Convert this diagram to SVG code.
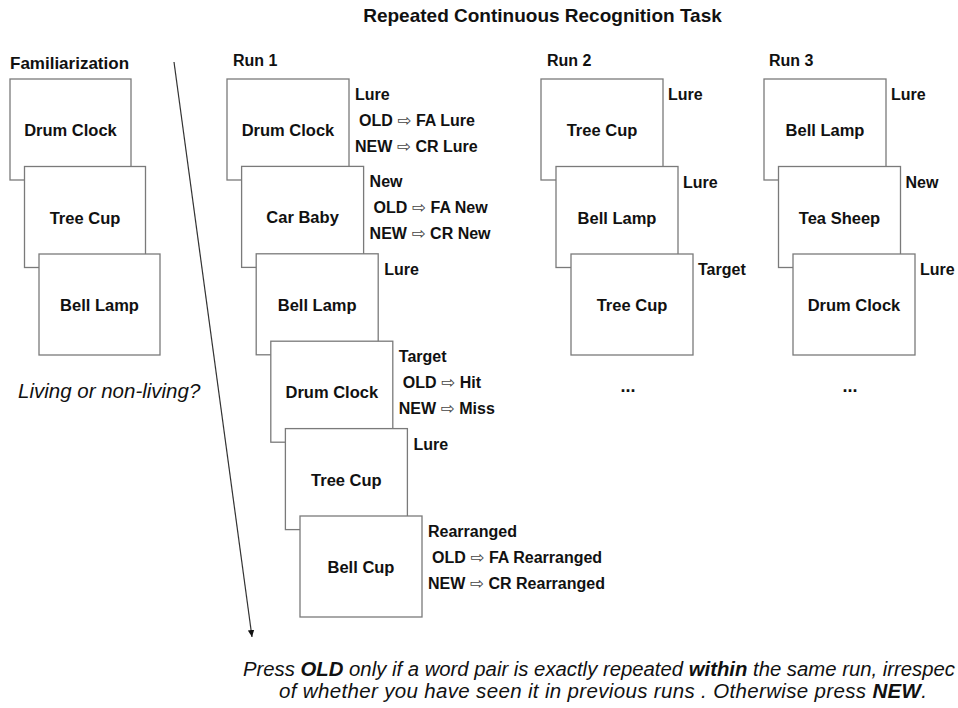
<svg xmlns="http://www.w3.org/2000/svg" width="958" height="708" viewBox="0 0 958 708">
<defs>
<style>
.card{fill:#fff;stroke:#7a7a7a;stroke-width:1.3}
.t{font-family:"Liberation Sans",Arial,sans-serif;font-weight:bold;fill:#111}
.w{font-size:16.5px;text-anchor:middle}
.l{font-size:16px}
.h{font-size:16px}
.ar{font-family:"DejaVu Sans",sans-serif;font-weight:normal;font-size:17px;fill:#444}
.it{font-family:"Liberation Sans",Arial,sans-serif;font-style:italic;font-size:20.5px;fill:#111}
.b{font-weight:bold}
.conn{stroke:#333;stroke-width:1.2;fill:none}
</style>
<marker id="ah" markerWidth="8" markerHeight="8" refX="7" refY="3.5" orient="auto" markerUnits="userSpaceOnUse"><path d="M0,0.3 L7,3.5 L0,6.7 z" fill="#111"/></marker>
</defs>
<rect width="958" height="708" fill="#fff"/>

<text class="t" x="542.5" y="22" font-size="19" text-anchor="middle">Repeated Continuous Recognition Task</text>
<text class="t" x="10" y="69" font-size="17">Familiarization</text>
<text class="t h" x="233" y="66">Run 1</text>
<text class="t h" x="547" y="66">Run 2</text>
<text class="t h" x="769" y="66">Run 3</text>

<g id="connectors">
<line class="conn" x1="174" y1="62" x2="252" y2="637" marker-end="url(#ah)"/>
</g>

<g id="fam1"><rect class="card" x="10" y="79" width="121" height="101"/><text class="t w" x="70.5" y="136">Drum Clock</text></g>
<g id="fam2"><rect class="card" x="24.5" y="166.5" width="121" height="101"/><text class="t w" x="85" y="223.5">Tree Cup</text></g>
<g id="fam3"><rect class="card" x="39" y="254" width="121" height="101"/><text class="t w" x="99.5" y="311">Bell Lamp</text></g>
<text class="it" x="18" y="398">Living or non-living?</text>

<g id="r1a"><rect class="card" x="227" y="79" width="122" height="101"/><text class="t w" x="288" y="136">Drum Clock</text>
<text class="t l" x="355" y="100">Lure</text>
<text class="t l" x="359" y="126">OLD <tspan class="ar">⇨</tspan> FA Lure</text>
<text class="t l" x="355" y="152">NEW <tspan class="ar">⇨</tspan> CR Lure</text></g>
<g id="r1b"><rect class="card" x="241.6" y="166.4" width="122" height="101"/><text class="t w" x="302.6" y="223.4">Car Baby</text>
<text class="t l" x="369.6" y="187.4">New</text>
<text class="t l" x="373.6" y="213.4">OLD <tspan class="ar">⇨</tspan> FA New</text>
<text class="t l" x="369.6" y="239.4">NEW <tspan class="ar">⇨</tspan> CR New</text></g>
<g id="r1c"><rect class="card" x="256.2" y="253.8" width="122" height="101"/><text class="t w" x="317.2" y="310.8">Bell Lamp</text>
<text class="t l" x="384.2" y="274.8">Lure</text></g>
<g id="r1d"><rect class="card" x="270.8" y="341.2" width="122" height="101"/><text class="t w" x="331.8" y="398.2">Drum Clock</text>
<text class="t l" x="398.8" y="362.2">Target</text>
<text class="t l" x="402.8" y="388.2">OLD <tspan class="ar">⇨</tspan> Hit</text>
<text class="t l" x="398.8" y="414.2">NEW <tspan class="ar">⇨</tspan> Miss</text></g>
<g id="r1e"><rect class="card" x="285.4" y="428.6" width="122" height="101"/><text class="t w" x="346.4" y="485.6">Tree Cup</text>
<text class="t l" x="413.4" y="449.6">Lure</text></g>
<g id="r1f"><rect class="card" x="300" y="516" width="122" height="101"/><text class="t w" x="361" y="573">Bell Cup</text>
<text class="t l" x="428" y="537">Rearranged</text>
<text class="t l" x="432" y="563">OLD <tspan class="ar">⇨</tspan> FA Rearranged</text>
<text class="t l" x="428" y="589">NEW <tspan class="ar">⇨</tspan> CR Rearranged</text></g>

<g id="r2a"><rect class="card" x="541" y="79" width="122" height="101"/><text class="t w" x="602" y="136">Tree Cup</text><text class="t l" x="668" y="100">Lure</text></g>
<g id="r2b"><rect class="card" x="556" y="166.5" width="122" height="101"/><text class="t w" x="617" y="223.5">Bell Lamp</text><text class="t l" x="683" y="187.5">Lure</text></g>
<g id="r2c"><rect class="card" x="571" y="254" width="122" height="101"/><text class="t w" x="632" y="311">Tree Cup</text><text class="t l" x="698" y="275">Target</text></g>
<text class="t" x="628" y="392" font-size="18" text-anchor="middle">...</text>

<g id="r3a"><rect class="card" x="764" y="79" width="122" height="101"/><text class="t w" x="825" y="136">Bell Lamp</text><text class="t l" x="891" y="100">Lure</text></g>
<g id="r3b"><rect class="card" x="778.5" y="166.5" width="122" height="101"/><text class="t w" x="839.5" y="223.5">Tea Sheep</text><text class="t l" x="905.5" y="187.5">New</text></g>
<g id="r3c"><rect class="card" x="793" y="254" width="122" height="101"/><text class="t w" x="854" y="311">Drum Clock</text><text class="t l" x="920" y="275">Lure</text></g>
<text class="t" x="850" y="392" font-size="18" text-anchor="middle">...</text>

<text class="it" x="243" y="676" textLength="712" lengthAdjust="spacingAndGlyphs">Press <tspan class="b">OLD</tspan> only if a word pair is exactly repeated <tspan class="b">within</tspan> the same run, irrespec</text>
<text class="it" x="279" y="698" textLength="648" lengthAdjust="spacing">of whether you have seen it in previous runs . Otherwise press <tspan class="b">NEW</tspan>.</text>
</svg>
